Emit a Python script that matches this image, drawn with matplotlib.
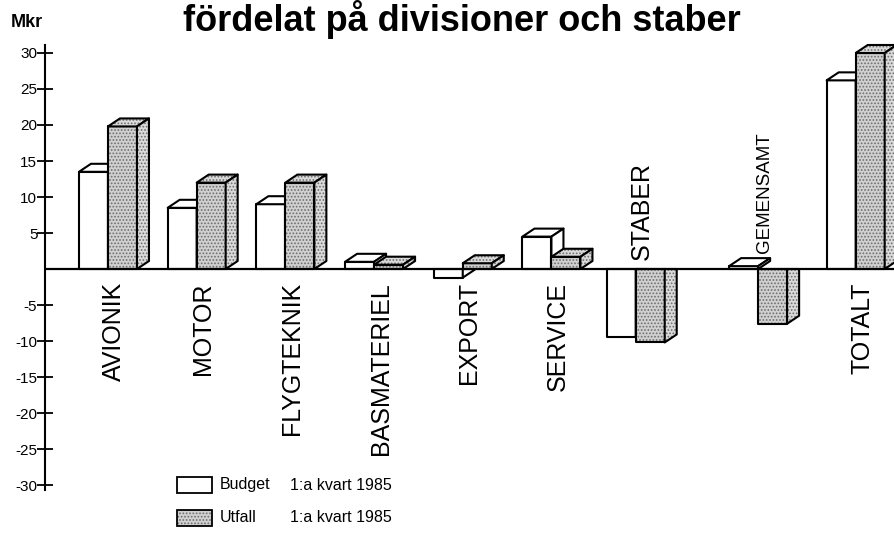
import numpy as np
import matplotlib
matplotlib.use("Agg")
import matplotlib.pyplot as plt
from matplotlib.patches import Polygon, Rectangle
import matplotlib.transforms as mtransforms

plt.rcParams['font.family'] = ['Liberation Sans', 'DejaVu Sans']
plt.rcParams['hatch.linewidth'] = 0.8

# ---------------- data ----------------
categories = ["AVIONIK", "MOTOR", "FLYGTEKNIK", "BASMATERIEL", "EXPORT",
              "SERVICE", "STABER", "GEMENSAMT", "TOTALT"]
budget = [13.5, 8.5, 9.0, 1.0, -1.2, 4.5, -9.5, 0.4, 26.2]
utfall = [19.8, 12.0, 12.0, 0.6, 0.8, 1.7, -10.2, -7.6, 30.0]
ytick_values = [30, 25, 20, 15, 10, 5, -5, -10, -15, -20, -25, -30]
title = "fördelat på divisioner och staber"
unit_label = "Mkr"
legend_names = ["Budget", "Utfall"]
legend_period = "1:a kvart 1985"

# ---------------- layout ----------------
W, H = 894, 533
slots = [0, 1, 2, 3, 4, 5, 5.95, 7.33, 8.43]      # group positions
bar_w = 0.327
depth_px = (12, 8)
ax_left_px, ax_right_px = 45, 894
ax_top_px, ax_bot_px = 45, 490
xlim = (-0.383, 9.189)
ylim = (-30.69, 31.11)

fig = plt.figure(figsize=(W / 100, H / 100), dpi=100)
ax = fig.add_axes([ax_left_px / W, (H - ax_bot_px) / H,
                   (ax_right_px - ax_left_px) / W, (ax_bot_px - ax_top_px) / H])
ax.set_xlim(*xlim)
ax.set_ylim(*ylim)

px_per_x = (ax_right_px - ax_left_px) / (xlim[1] - xlim[0])
px_per_y = (ax_bot_px - ax_top_px) / (ylim[1] - ylim[0])
dx = depth_px[0] / px_per_x
dy = depth_px[1] / px_per_y

UT_FACE = '#d0d0d0'
UT_SIDE = '#dadada'
UT_DOTS = '#6e6e6e'


def face(pts, fc, z, hatch=None):
    ax.add_patch(Polygon(pts, closed=True, facecolor=fc,
                         edgecolor=UT_DOTS if hatch else fc, hatch=hatch,
                         lw=0, zorder=z, clip_on=False))
    ax.add_patch(Polygon(pts, closed=True, fill=False, edgecolor='black',
                         lw=1.5, joinstyle='round', zorder=z + 0.01, clip_on=False))


def bar3d(x0, v, fc, sc, z, hatch=None):
    x1 = x0 + bar_w
    if v >= 0:
        face([(x0, 0), (x1, 0), (x1, v), (x0, v)], fc, z, hatch)
        face([(x0, v), (x0 + dx, v + dy), (x1 + dx, v + dy), (x1, v)], sc, z + 0.1, hatch)
        face([(x1, 0), (x1 + dx, min(dy, v + dy)), (x1 + dx, v + dy), (x1, v)],
             sc, z + 0.2, hatch)
    else:
        face([(x0, 0), (x1, 0), (x1, v), (x0, v)], fc, z, hatch)
        face([(x1, 0), (x1 + dx, 0), (x1 + dx, min(0, v + dy)), (x1, v)], sc, z + 0.2, hatch)


for i, s in enumerate(slots):
    bar3d(s, budget[i], 'white', 'white', 2)
    bar3d(s + bar_w, utfall[i], UT_FACE, UT_SIDE, 3, hatch='.....')

# zero line
ax.axhline(0, color='black', lw=1.6, zorder=5)

# axes styling
for sp in ['top', 'right', 'bottom']:
    ax.spines[sp].set_visible(False)
ax.spines['left'].set_linewidth(1.5)
ax.set_xticks([])
ax.set_yticks(ytick_values)
ax.set_yticklabels([str(v) for v in ytick_values])
ax.tick_params(axis='y', direction='inout', length=11, width=1.3, pad=0,
               labelsize=11)

# category labels
for i, s in enumerate(slots):
    xc = s + 0.4
    if utfall[i] < 0:
        small = 0 < budget[i] < 1
        off = 16 if small else 9
        fs = 13.5 if small else 18
        tr = ax.transData + mtransforms.ScaledTranslation(0, off / 100, fig.dpi_scale_trans)
        ax.text(xc, 0, categories[i], rotation=90, ha='center', va='bottom',
                fontsize=fs, transform=tr)
    else:
        tr = ax.transData + mtransforms.ScaledTranslation(0, -13 / 100, fig.dpi_scale_trans)
        ax.text(xc, 0, categories[i], rotation=90, ha='center', va='top',
                fontsize=18, transform=tr)

# title and unit
fig.text(462 / W, (H - 31) / H, title, ha='center', va='baseline',
         fontsize=26, fontweight='bold')
fig.text(11 / W, (H - 27) / H, unit_label, ha='left', va='baseline',
         fontsize=13, fontweight='bold')

# legend
leg_rows = [(477, 'white', None), (510, UT_FACE, '.....')]
for (top, fc, hatch), name in zip(leg_rows, legend_names):
    r = Rectangle((177 / W, (H - top - 16) / H), 35 / W, 16 / H,
                  transform=fig.transFigure, facecolor=fc,
                  edgecolor=UT_DOTS if hatch else 'black', hatch=hatch, lw=0 if hatch else 1.3)
    fig.add_artist(r)
    if hatch:
        fig.add_artist(Rectangle((177 / W, (H - top - 16) / H), 35 / W, 16 / H,
                                 transform=fig.transFigure, fill=False,
                                 edgecolor='black', lw=1.3))
    fig.text(220 / W, (H - top - 8) / H, name, ha='left', va='center', fontsize=11.5)
    fig.text(290 / W, (H - top - 8) / H, legend_period, ha='left', va='center', fontsize=11.5)

fig.savefig('out.png', dpi=100)
